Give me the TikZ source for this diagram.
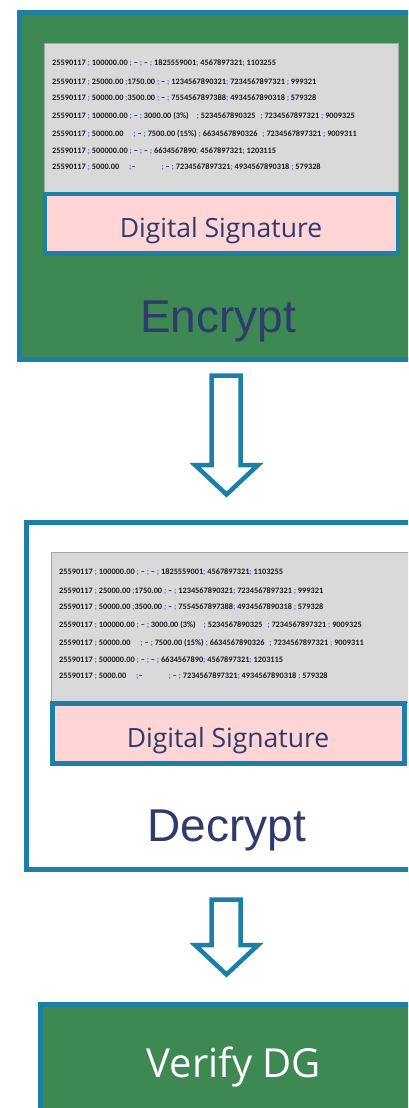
\documentclass[tikz,border=0pt]{standalone}
\usepackage{fontspec}
\setmainfont{Liberation Sans}
\newfontfamily\dsfont{Open Sans}
\newfontfamily\tabfont{Carlito}
\definecolor{edge}{HTML}{1B7FA6}
\definecolor{boxgreen}{HTML}{3E8853}
\definecolor{sigpink}{HTML}{FFD5D5}
\definecolor{navy}{HTML}{2E3B6C}
\definecolor{tabgray}{HTML}{D9D9D9}
\definecolor{semi}{HTML}{4F5FE8}
\newcommand\bsc{{\color{semi};}}
\newcommand\dlines[3]{%
  \node[dl] (#1a) at (#2,#3) {25590117 \bsc{} 100000.00 \bsc{} \textendash{} \bsc{} \textendash{} \bsc{} 1825559001\bsc{} 4567897321\bsc{} 1103255};
  \node[dl] (#1b) at (#2,#3+19) {25590117 \bsc{} 25000.00 \bsc{}1750.00 \bsc{}\ \textendash{} \bsc{} 1234567890321\bsc{} 7234567897321 \bsc{} 999321};
  \node[dl] (#1c) at (#2,#3+35) {25590117 \bsc{} 50000.00 \bsc{}3500.00 \bsc{}\ \textendash{} \bsc{} 7554567897388\bsc{} 4934567890318 \bsc{} 579328};
  \node[dl] (#1d) at (#2,#3+53) {25590117 \bsc{} 100000.00 \bsc{} \textendash{} \bsc{} 3000.00 (3\%)\hspace{6pt} \bsc{} 5234567890325\hspace{3pt} \bsc{} 7234567897321 \bsc{} 9009325};
  \node[dl] (#1e) at (#2,#3+71.5) {25590117 \bsc{} 50000.00\hspace{8pt} \bsc{} \textendash{} \bsc{} 7500.00 (15\%) \bsc{} 6634567890326\hspace{3pt} \bsc{} 7234567897321 \bsc{} 9009311};
  \node[dl] (#1f) at (#2,#3+88.5) {25590117 \bsc{} 500000.00 \bsc{} \textendash{} \bsc{} \textendash{} \bsc{} 6634567890\bsc{} 4567897321\bsc{} 1203115};
  \node[dl] (#1g) at (#2,#3+104) {25590117 \bsc{} 5000.00\hspace{8pt} \bsc{}\textendash{}\hspace{24pt} \bsc{} \textendash{} \bsc{} 7234567897321\bsc{} 4934567890318 \bsc{} 579328};
}
\begin{document}
\begin{tikzpicture}[x=1pt,y=-1pt,
  frame/.style={draw=edge, line width=5pt, anchor=north west, outer sep=0pt, inner sep=0pt},
  tabbox/.style={fill=tabgray, draw=gray!70, line width=0.8pt, anchor=north west, outer sep=0pt, inner sep=0pt},
  sigbox/.style={fill=sigpink, draw=edge, line width=4.5pt, anchor=north west, outer sep=0pt, inner sep=0pt},
  sigtext/.style={font=\dsfont\fontsize{26.5}{26.5}\selectfont, text=navy, anchor=base, inner sep=0pt},
  bigtext/.style={font=\fontsize{46}{46}\selectfont, text=navy, anchor=base, inner sep=0pt},
  dl/.style={font=\tabfont\bfseries\fontsize{8.3}{8.3}\selectfont, anchor=west, inner sep=0pt, text=black!90},
  blockarrow/.style={draw=edge, fill=white, line width=4.5pt, line join=miter}
]
\clip (0,0) rectangle (408,1108);
\fill[white] (0,0) rectangle (408,1108);

% Encrypt block
\node[frame, fill=boxgreen, minimum width=400.5pt, minimum height=347pt] (enc) at (19.5,12.5) {};
\node[tabbox, minimum width=354pt, minimum height=149pt] (enctab) at (44,43) {};
\dlines{encl}{52}{63}
\node[sigbox, minimum width=353pt, minimum height=59.5pt] (encsig) at (45,194) {};
\node[sigtext] (encsigt) at (221,237) {Digital Signature};
\node[bigtext] (enct) at (218,332) {Encrypt};

% arrow 1
\draw[blockarrow] (211.5,375.5) -- (240.5,375.5) -- (240.5,465) -- (258,465) -- (226.5,494.5) -- (195,465) -- (211.5,465) -- cycle;

% Decrypt block
\node[frame, fill=white, minimum width=393.5pt, minimum height=347pt] (dec) at (26.5,522.5) {};
\node[tabbox, minimum width=361pt, minimum height=150pt] (dectab) at (51,552) {};
\dlines{decl}{59}{572}
\node[sigbox, minimum width=352pt, minimum height=60pt] (decsig) at (52.5,703.5) {};
\node[sigtext] (decsigt) at (228,747) {Digital Signature};
\node[bigtext] (dect) at (227,841) {Decrypt};

% arrow 2
\draw[blockarrow] (211.5,899.5) -- (240.5,899.5) -- (240.5,945) -- (258,945) -- (226.5,974.5) -- (195,945) -- (211.5,945) -- cycle;

% Verify block
\node[frame, fill=boxgreen, minimum width=380pt, minimum height=120pt] (ver) at (40.5,1004.5) {};
\node[font=\dsfont\fontsize{40}{40}\selectfont, text=white, anchor=base, inner sep=0pt] (vert) at (234,1077) {Verify DG};
\end{tikzpicture}
\end{document}
